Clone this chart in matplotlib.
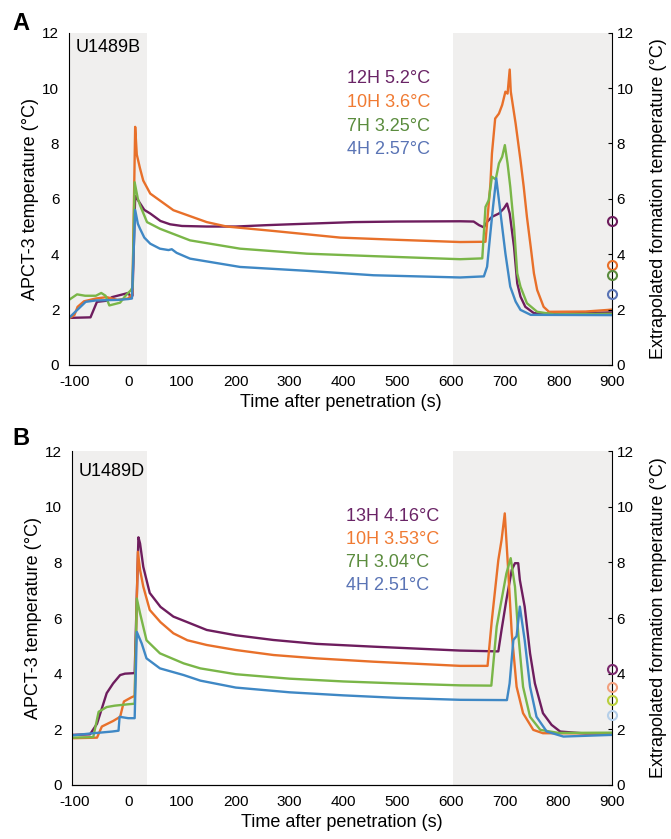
import numpy as np
import matplotlib
matplotlib.use("Agg")
import matplotlib.pyplot as plt

plt.rcParams['font.family'] = ['Liberation Sans', 'DejaVu Sans']
plt.rcParams['axes.unicode_minus'] = False

# --- panel A : U1489B ---
a_12h_t = [-110, -70, -58, -40, -30, -10, 0, 5, 8, 13, 20, 30, 41, 60, 78, 100, 146, 200, 258, 300,
           419, 500, 617, 642, 652, 661, 667, 676, 689, 698, 704, 709, 717, 723, 729, 738, 754, 800, 900]
a_12h_y = [1.7, 1.72, 2.28, 2.32, 2.45, 2.55, 2.6, 2.45, 2.5, 6.1, 5.9, 5.6, 5.47, 5.2, 5.08, 5.02, 5.0, 5.0, 5.05, 5.08,
           5.16, 5.18, 5.19, 5.18, 5.05, 4.97, 5.17, 5.35, 5.47, 5.65, 5.83, 5.47, 4.27, 2.95, 2.47, 2.1, 1.87, 1.85, 1.9]

a_10h_t = [-110, -100, -94, -82, -60, -40, -20, 0, 5, 8, 13, 16, 22, 28, 41, 84, 146, 183, 270, 394, 500, 617,
           664, 673, 676, 682, 689, 695, 701, 705, 709, 711, 720, 729, 735, 741, 748, 754, 760, 772, 782, 850, 900]
a_10h_y = [1.68, 1.8, 2.1, 2.3, 2.4, 2.45, 2.35, 2.4, 2.5, 2.6, 8.6, 7.6, 7.1, 6.66, 6.19, 5.59, 5.16, 5.0, 4.84, 4.6, 4.52, 4.44,
           4.45, 6.5, 7.64, 8.9, 9.08, 9.39, 9.87, 9.8, 10.67, 9.87, 8.72, 7.4, 6.44, 5.35, 4.27, 3.31, 2.71, 2.1, 1.92, 1.93, 2.0]

a_7h_t = [-110, -95, -80, -60, -50, -42, -35, -25, -15, -5, 5, 8, 12, 18, 22, 35, 59, 115, 208, 332, 456, 617,
          658, 664, 670, 676, 683, 689, 695, 700, 705, 710, 717, 723, 729, 741, 760, 791, 900]
a_7h_y = [2.35, 2.55, 2.5, 2.5, 2.6, 2.5, 2.15, 2.2, 2.25, 2.5, 2.7, 2.8, 6.6, 6.0, 5.77, 5.16, 4.92, 4.5, 4.2, 4.02, 3.93, 3.82,
          3.85, 5.71, 5.95, 6.8, 6.7, 7.28, 7.52, 7.94, 7.28, 6.44, 4.99, 3.31, 2.83, 2.23, 1.92, 1.83, 1.85]

a_4h_t = [-110, -79, -60, -20, 0, 7, 13, 18, 22, 30, 41, 59, 75, 81, 90, 115, 208, 332, 456, 617,
          661, 667, 673, 678, 684, 689, 695, 701, 710, 720, 729, 748, 900]
a_4h_y = [1.7, 2.28, 2.33, 2.35, 2.38, 2.4, 5.6, 5.1, 4.92, 4.6, 4.38, 4.2, 4.15, 4.18, 4.05, 3.84, 3.54, 3.4, 3.24, 3.16,
          3.2, 3.55, 4.75, 5.71, 6.74, 5.95, 4.99, 4.03, 2.83, 2.29, 1.99, 1.81, 1.8]

a_labels = ["12H 5.2°C", "10H 3.6°C", "7H 3.25°C", "4H 2.57°C"]
a_extrap = [5.2, 3.6, 3.25, 2.57]

# --- panel B : U1489D ---
b_13h_t = [-105, -71, -58, -40, -28, -15, -6, 12, 19, 22, 28, 40, 60, 84, 110, 146, 200, 270, 350, 456, 617,
           688, 694, 703, 713, 719, 725, 728, 737, 747, 756, 771, 787, 803, 850, 900]
b_13h_y = [1.8, 1.82, 2.2, 3.3, 3.65, 3.95, 4.0, 4.02, 8.9, 8.68, 7.84, 6.9, 6.4, 6.05, 5.85, 5.57, 5.38, 5.21, 5.07, 4.97, 4.83,
           4.8, 5.57, 6.65, 7.73, 7.97, 7.97, 7.37, 6.41, 4.73, 3.65, 2.58, 2.16, 1.92, 1.85, 1.85]

b_10h_t = [-105, -58, -49, -28, -15, -8, 6, 12, 18, 22, 28, 40, 60, 84, 110, 146, 200, 270, 350, 456, 617,
           668, 676, 688, 694, 700, 706, 713, 722, 734, 753, 771, 900]
b_10h_y = [1.68, 1.7, 2.1, 2.3, 2.45, 3.0, 3.15, 3.2, 8.38, 7.73, 7.13, 6.29, 5.85, 5.45, 5.2, 5.03, 4.85, 4.67, 4.55, 4.43, 4.28,
           4.28, 5.93, 8.08, 8.8, 9.76, 7.84, 5.45, 3.53, 2.58, 1.98, 1.86, 1.85]

b_7h_t = [-105, -65, -55, -40, -25, 0, 12, 16, 22, 34, 59, 103, 134, 200, 300, 400, 500, 617,
          675, 685, 694, 703, 711, 719, 725, 734, 747, 766, 800, 900]
b_7h_y = [1.7, 1.72, 2.63, 2.8, 2.85, 2.9, 2.92, 6.7, 6.17, 5.2, 4.73, 4.37, 4.19, 3.98, 3.82, 3.72, 3.65, 3.58,
          3.57, 5.69, 6.65, 7.6, 8.15, 7.12, 5.45, 3.53, 2.45, 1.98, 1.87, 1.88]

b_4h_t = [-105, -70, -30, -18, -16, 0, 12, 16, 25, 34, 59, 103, 134, 200, 300, 400, 500, 617,
          704, 709, 716, 722, 728, 737, 747, 759, 778, 809, 900]
b_4h_y = [1.78, 1.85, 1.92, 1.95, 2.45, 2.4, 2.4, 5.5, 5.09, 4.55, 4.19, 3.95, 3.75, 3.5, 3.33, 3.22, 3.13, 3.06,
          3.05, 3.65, 5.21, 5.35, 6.41, 5.21, 3.53, 2.45, 1.92, 1.74, 1.8]

b_labels = ["13H 4.16°C", "10H 3.53°C", "7H 3.04°C", "4H 2.51°C"]
b_extrap = [4.16, 3.53, 3.04, 2.51]

line_colors = ["#6e1d5e", "#e8702a", "#7ab648", "#3f88c5"]
text_colors = ["#6a2466", "#f07a32", "#5b8c3e", "#5a74b5"]
a_circle_colors = ["#6e1d5e", "#e8702a", "#5b8c3e", "#5a74b5"]
b_circle_colors = ["#7b2a6e", "#f2a07e", "#b9cf3f", "#b5cfe9"]

fig = plt.figure(figsize=(6.71, 8.39), dpi=100)

panels = [
    dict(rect=[0.1028, 0.565, 0.810, 0.396], xmin=-110, site="U1489B", letter="A", lety=1 - 23 / 839,
         series=[(a_12h_t, a_12h_y), (a_10h_t, a_10h_y), (a_7h_t, a_7h_y), (a_4h_t, a_4h_y)],
         labels=a_labels, extrap=a_extrap, ccol=a_circle_colors, legx=0.511, legy=[0.863, 0.789, 0.719, 0.649],
         sitey=0.955),
    dict(rect=[0.1069, 0.0644, 0.8057, 0.398], xmin=-105, site="U1489D", letter="B", lety=1 - 438 / 839,
         series=[(b_13h_t, b_13h_y), (b_10h_t, b_10h_y), (b_7h_t, b_7h_y), (b_4h_t, b_4h_y)],
         labels=b_labels, extrap=b_extrap, ccol=b_circle_colors, legx=0.507, legy=[0.805, 0.736, 0.666, 0.596],
         sitey=0.938),
]

for p in panels:
    ax = fig.add_axes(p["rect"])
    ax.axvspan(p["xmin"], 35, color="#f0efee", lw=0, zorder=0)
    ax.axvspan(603, 900, color="#f0efee", lw=0, zorder=0)
    for (t, y), c in zip(p["series"], line_colors):
        ax.plot(t, y, color=c, lw=1.7, zorder=2)
    ax.set_xlim(p["xmin"], 900)
    ax.set_ylim(0, 12)
    ax.set_xticks(np.arange(-100, 901, 100))
    ax.set_yticks(np.arange(0, 13, 2))
    ax.tick_params(axis="both", length=0, labelsize=11, pad=7)
    ax.spines["top"].set_visible(False)
    ax.spines["right"].set_visible(False)
    ax.set_xlabel("Time after penetration (s)", fontsize=13, labelpad=4)
    ax.set_ylabel("APCT-3 temperature (°C)", fontsize=13, labelpad=2)
    ax.text(0.012, p["sitey"], p["site"], transform=ax.transAxes, fontsize=13, va="center", ha="left")
    for lab, ly, tc in zip(p["labels"], p["legy"], text_colors):
        ax.text(p["legx"], ly, lab, transform=ax.transAxes, fontsize=13, color=tc, va="center", ha="left")

    ax2 = ax.twinx()
    ax2.set_ylim(0, 12)
    ax2.set_yticks(np.arange(0, 13, 2))
    ax2.tick_params(axis="y", direction="in", length=3, labelsize=11, pad=3)
    ax2.spines["top"].set_visible(False)
    ax2.spines["left"].set_visible(False)
    for v, cc in zip(p["extrap"], p["ccol"]):
        ax2.plot([900], [v], marker="o", ms=6.5, mfc="none", mec=cc, mew=1.5, clip_on=False, zorder=5)
    ax2.set_ylabel("Extrapolated formation temperature (°C)", fontsize=13, labelpad=12)
    ax2.set_xlim(p["xmin"], 900)

    fig.text(12 / 671, p["lety"], p["letter"], fontsize=17, fontweight="bold", va="center", ha="left")

fig.savefig("out.png", dpi=100)
